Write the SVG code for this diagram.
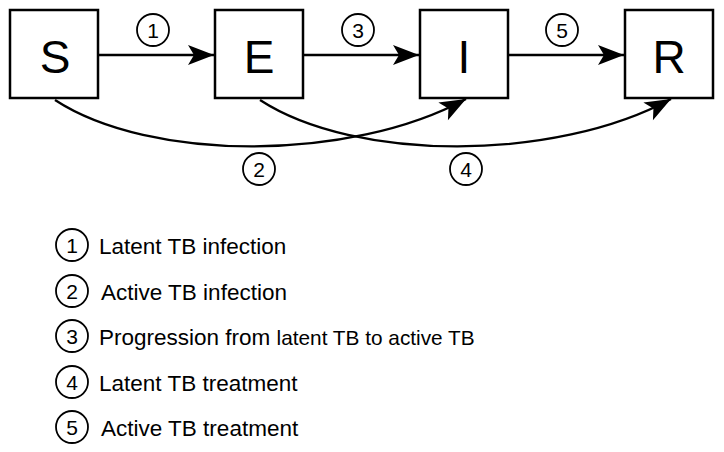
<svg xmlns="http://www.w3.org/2000/svg" width="724" height="452" viewBox="0 0 724 452">
<style>
.box{fill:#fff;stroke:#000;stroke-width:2.5}
.big{font-family:"Liberation Sans",Arial,sans-serif;font-size:46px;fill:#000;text-anchor:middle}
.num{font-family:"Liberation Sans",Arial,sans-serif;font-size:21px;fill:#000;text-anchor:middle}
.circ{fill:none;stroke:#000;stroke-width:1.8}
.lbl{font-family:"Liberation Sans",Arial,sans-serif;font-size:22.5px;fill:#000}
.sm{font-size:20.8px}
.edge{fill:none;stroke:#000;stroke-width:2.3}
</style>
<defs>
<marker id="ah" markerUnits="userSpaceOnUse" markerWidth="28" markerHeight="22" viewBox="-27 -11 28 22" refX="0" refY="0" orient="auto">
<path d="M0,0 L-26,-10 L-20,0 L-26,10 Z" fill="#000"/>
</marker>
</defs>
<g id="connectors">
<line class="edge" x1="99" y1="55" x2="214" y2="55" marker-end="url(#ah)"/>
<line class="edge" x1="303" y1="55" x2="419" y2="55" marker-end="url(#ah)"/>
<line class="edge" x1="508" y1="55" x2="624" y2="55" marker-end="url(#ah)"/>
<path class="edge" d="M55,100 C150,162 350,162 466,99" marker-end="url(#ah)"/>
<path class="edge" d="M260,100 C355,162 555,162 671,99" marker-end="url(#ah)"/>
</g>
<g id="node-S"><rect class="box" x="10" y="10" width="88" height="88"/><text class="big" x="55" y="73">S</text></g>
<g id="node-E"><rect class="box" x="215" y="10" width="88" height="88"/><text class="big" x="259" y="73">E</text></g>
<g id="node-I"><rect class="box" x="420" y="10" width="88" height="88"/><text class="big" x="464" y="73">I</text></g>
<g id="node-R"><rect class="box" x="625" y="10" width="88" height="88"/><text class="big" x="669" y="73">R</text></g>
<g id="edge-labels">
<circle class="circ" cx="153" cy="30" r="16"/><text class="num" x="153" y="37.5">1</text>
<circle class="circ" cx="358" cy="30" r="16"/><text class="num" x="358" y="37.5">3</text>
<circle class="circ" cx="562" cy="30" r="16"/><text class="num" x="562" y="37.5">5</text>
<circle class="circ" cx="259" cy="169" r="16"/><text class="num" x="259" y="176.5">2</text>
<circle class="circ" cx="466" cy="169" r="16"/><text class="num" x="466" y="176.5">4</text>
</g>
<g id="legend">
<circle class="circ" cx="72" cy="245" r="16"/><text class="num" x="72" y="252.5">1</text>
<text class="lbl" x="99" y="254">Latent TB infection</text>
<circle class="circ" cx="72" cy="291" r="16"/><text class="num" x="72" y="298.5">2</text>
<text class="lbl" x="101" y="300">Active TB infection</text>
<circle class="circ" cx="72" cy="336" r="16"/><text class="num" x="72" y="343.5">3</text>
<text class="lbl" x="99" y="345">Progression from <tspan class="sm">latent TB to active TB</tspan></text>
<circle class="circ" cx="72" cy="382" r="16"/><text class="num" x="72" y="389.5">4</text>
<text class="lbl" x="99" y="391">Latent TB treatment</text>
<circle class="circ" cx="72" cy="427" r="16"/><text class="num" x="72" y="434.5">5</text>
<text class="lbl" x="101" y="436">Active TB treatment</text>
</g>
</svg>
